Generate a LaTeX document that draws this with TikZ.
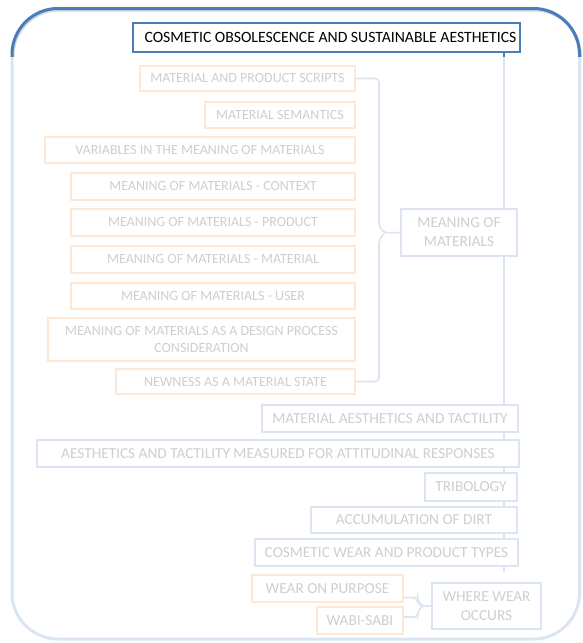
\documentclass[tikz,border=0pt]{standalone}
\usepackage{fontspec}
\setmainfont{Carlito}
\usetikzlibrary{calc,backgrounds}

\definecolor{mainblue}{HTML}{4A7EBB}
\definecolor{orangeline}{HTML}{F79646}
\colorlet{paleblue}{mainblue!20!white}
\colorlet{paleorange}{orangeline!22!white}
\colorlet{paletext}{black!19!white}

\tikzset{
  basebox/.style={line width=1.6pt, fill=white, inner sep=0pt, align=center,
    font=\fontsize{14}{17}\selectfont},
  obox/.style={basebox, draw=paleorange, text=paletext},
  bbox/.style={basebox, draw=paleblue, text=paletext},
  large/.style={font=\fontsize{15.3}{19}\selectfont},
  headbox/.style={line width=1.6pt, fill=white, draw=mainblue, text=black,
    inner sep=0pt, font=\fontsize{15.7}{18}\selectfont},
  link/.style={draw=paleblue, line width=1.6pt},
  bracelink/.style={link, rounded corners=4pt},
  sz/.style 2 args={minimum width=#1pt, minimum height=#2pt},
}

\begin{document}
\begin{tikzpicture}[x=1pt, y=-1pt]
\useasboundingbox (0,0) rectangle (583,643);

% outer rounded frame: pale below, strong blue along the top
\draw[paleblue, line width=3pt, rounded corners=46pt] (12,8.5) rectangle (579.5,639);
\begin{scope}
  \clip (0,0) rectangle (583,56);
  \draw[black!30, opacity=.5, line width=3pt, rounded corners=46pt] (13,10) rectangle (580.5,640);
  \draw[mainblue, line width=3pt, rounded corners=46pt] (12,8.5) rectangle (579.5,639);
\end{scope}

% title
\node[headbox, sz={387}{29}] (title) at (326.5,37.5) {\hspace*{8pt}COSMETIC OBSOLESCENCE AND SUSTAINABLE\ AESTHETICS};

% meaning of materials group
\node[obox, sz={215}{25}] (scripts)   at (247.5,78.5) {MATERIAL AND PRODUCT SCRIPTS};
\node[obox, sz={150}{26}] (semantics) at (280,115)    {MATERIAL SEMANTICS};
\node[obox, sz={310}{26}] (variables) at (200,150)    {VARIABLES IN THE MEANING OF MATERIALS};
\node[obox, sz={284}{27}] (context)   at (213,186.5)  {MEANING OF MATERIALS - CONTEXT};
\node[obox, sz={284}{27}] (product)   at (213,222.5)  {MEANING OF MATERIALS - PRODUCT};
\node[obox, sz={284}{27}] (material)  at (213,259.5)  {MEANING OF MATERIALS - MATERIAL};
\node[obox, sz={284}{26}] (user)      at (213,296)    {MEANING OF MATERIALS - USER};
\node[obox, sz={307}{43}] (design)    at (201.5,339.5) {MEANING OF MATERIALS AS A DESIGN PROCESS\\CONSIDERATION};
\node[obox, sz={239}{25}] (newness)   at (235.5,381.5) {NEWNESS AS A MATERIAL STATE};
\node[bbox, large, sz={116}{47}] (mom) at (459,232.5)  {MEANING OF\\MATERIALS};

% main column
\node[bbox, large, sz={256}{27}] (aesth)     at (390,418.5)  {MATERIAL AESTHETICS AND TACTILITY};
\node[bbox, large, sz={482}{27}] (measured)  at (278,453.5)  {AESTHETICS AND TACTILITY MEASURED FOR ATTITUDINAL\ RESPONSES};
\node[bbox, large, sz={92}{28}]  (tribology) at (471,487)    {TRIBOLOGY};
\node[bbox, large, sz={206}{26}] (dirt)      at (414,520)    {ACCUMULATION OF DIRT};
\node[bbox, large, sz={263}{27}] (wear)      at (386.5,552.5) {COSMETIC WEAR AND PRODUCT TYPES};

% wear group
\node[obox, large, sz={151}{27}] (purpose)   at (327.5,588.5) {WEAR ON PURPOSE};
\node[obox, large, sz={86}{27}]  (wabi)      at (360,620.5)  {WABI-SABI};
\node[bbox, large, sz={109}{46}] (where)     at (486.5,606)  {WHERE WEAR\\OCCURS};

% connectors
\coordinate (tx) at (504,0);
\coordinate (trunkend) at (504,572);
\coordinate (bx) at (379,0);
\coordinate (btip) at (385,233);
\coordinate (wx) at (418,0);
\coordinate (wtip) at (422,606);
\coordinate (pe) at ([yshift=-9pt]purpose.east);
\coordinate (we) at ([yshift=3.5pt]wabi.east);

\begin{scope}[on background layer]
  \draw[link] (title.south -| tx) -- (trunkend);
  \draw[mainblue, line width=1.6pt] (title.south -| tx) -- ++(0,4);
\end{scope}

\draw[bracelink] (scripts.east) -- (scripts.east -| bx) -- ($(bx |- btip)+(0,-6)$) -- (btip) -- (mom.west);
\draw[bracelink] (newness.east) -- (newness.east -| bx) -- ($(bx |- btip)+(0,6)$) -- (btip);

\draw[bracelink] (pe) -- (pe -| wx) -- ($(wx |- wtip)+(0,-4)$) -- (wtip) -- (where.west);
\draw[bracelink] (we) -- (we -| wx) -- ($(wx |- wtip)+(0,4)$) -- (wtip);
\end{tikzpicture}
\end{document}
